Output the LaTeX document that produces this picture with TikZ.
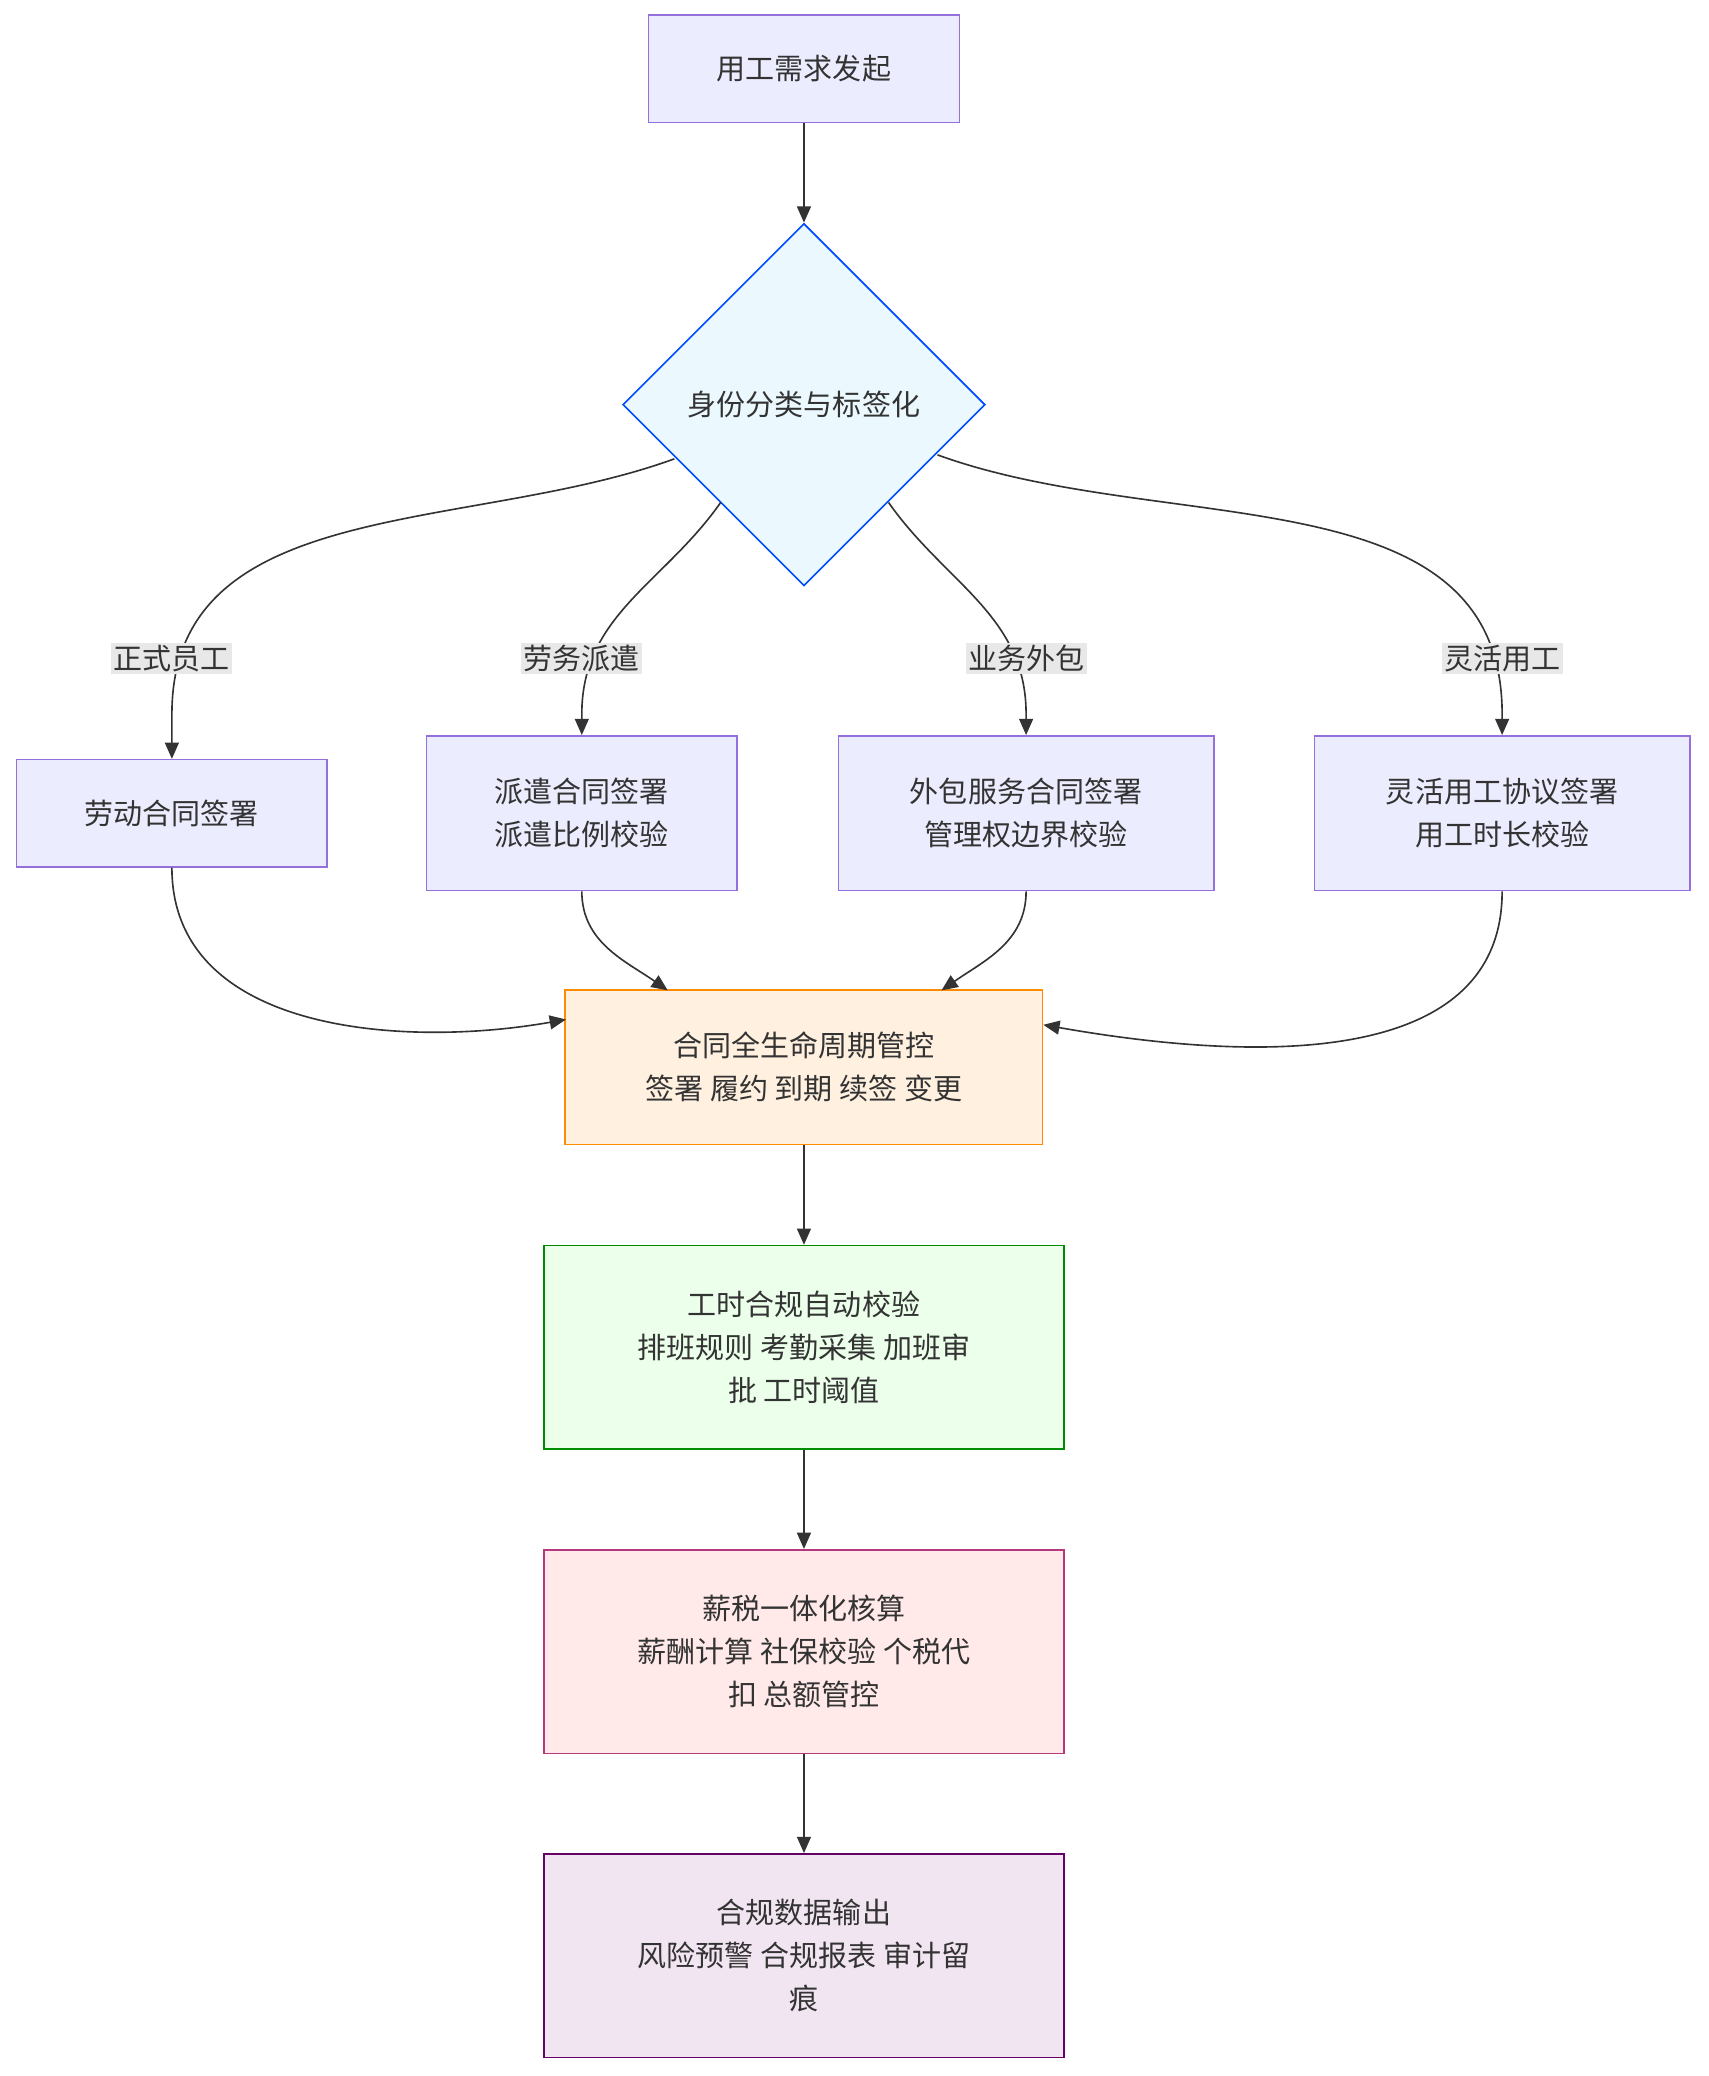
\documentclass[tikz,border=0pt]{standalone}
\usepackage{fontspec}
\setmainfont{Noto Sans CJK SC}
\usetikzlibrary{shapes.geometric,arrows.meta}
\definecolor{boxfill}{HTML}{ECECFF}
\definecolor{boxline}{HTML}{9370DB}
\definecolor{txt}{HTML}{333333}
\begin{document}
\begin{tikzpicture}[x=0.02cm,y=0.02cm,
    font=\fontsize{12.5}{18.5}\selectfont\color{txt},
    box/.style={draw=boxline,fill=boxfill,line width=0.7pt,align=center,inner sep=0pt},
    lab/.style={fill=black!9,inner sep=1pt},
    arr/.style={draw=txt,line width=0.7pt,-{Triangle[length=7pt,width=6pt]}},
    lnk/.style={draw=txt,line width=0.7pt}]
    \useasboundingbox (0,0) rectangle (1292,-1570);
    \node [box,minimum width=235*0.02cm,minimum height=81*0.02cm] (start) at (608,-52) {用工需求发起};
    \node [diamond,draw=blue!70!cyan,fill=cyan!8,line width=0.7pt,minimum width=274*0.02cm,minimum height=274*0.02cm,inner sep=0pt] (dia) at (608,-306) {身份分类与标签化};
    \node [box,minimum width=235*0.02cm,minimum height=81*0.02cm] (formal) at (130,-615) {劳动合同签署};
    \node [box,minimum width=235*0.02cm,minimum height=117*0.02cm] (dispatch) at (440,-615) {派遣合同签署\\派遣比例校验};
    \node [box,minimum width=284*0.02cm,minimum height=117*0.02cm] (outsrc) at (776,-615) {外包服务合同签署\\管理权边界校验};
    \node [box,minimum width=284*0.02cm,minimum height=117*0.02cm] (flex) at (1136,-615) {灵活用工协议签署\\用工时长校验};
    \node [box,draw=orange!90!yellow,fill=orange!12,minimum width=361*0.02cm,minimum height=117*0.02cm] (life) at (608,-807) {合同全生命周期管控\\签署 履约 到期 续签 变更};
    \node [box,draw=green!55!black,fill=green!8,minimum width=393*0.02cm,minimum height=154*0.02cm] (work) at (608,-1019) {工时合规自动校验\\排班规则 考勤采集 加班审\\批 工时阈值};
    \node [box,draw=magenta!70!black,fill=pink!35,minimum width=393*0.02cm,minimum height=154*0.02cm] (pay) at (608,-1249) {薪税一体化核算\\薪酬计算 社保校验 个税代\\扣 总额管控};
    \node [box,draw=violet!80!black,fill=violet!10,minimum width=393*0.02cm,minimum height=154*0.02cm] (out) at (608,-1479) {合规数据输出\\风险预警 合规报表 审计留\\痕};
    % edges from the diamond
    \draw [arr] (start) -- (dia);
    \draw [arr] (510,-347) to[out=200,in=90] (130,-540) -- (formal.north);
    \draw [arr] (545,-380) to[out=235,in=90] (440,-540) -- (dispatch.north);
    \draw [arr] (672,-380) to[out=-55,in=90] (776,-540) -- (outsrc.north);
    \draw [arr] (709,-344) to[out=-20,in=90] (1136,-540) -- (flex.north);
    \node [lab] (l1) at (130,-498) {正式员工};
    \node [lab] (l2) at (440,-498) {劳务派遣};
    \node [lab] (l3) at (776,-498) {业务外包};
    \node [lab] (l4) at (1136,-498) {灵活用工};
    % edges into the lifecycle box
    \draw [arr] (formal.south) to[out=-90,in=190] (428,-771);
    \draw [arr] (dispatch.south) to[out=-90,in=145] (505,-749);
    \draw [arr] (outsrc.south) to[out=-90,in=35] (712,-749);
    \draw [arr] (flex.south) to[out=-90,in=-10] (789,-775);
    \draw [arr] (life) -- (work);
    \draw [arr] (work) -- (pay);
    \draw [arr] (pay) -- (out);
\end{tikzpicture}
\end{document}
